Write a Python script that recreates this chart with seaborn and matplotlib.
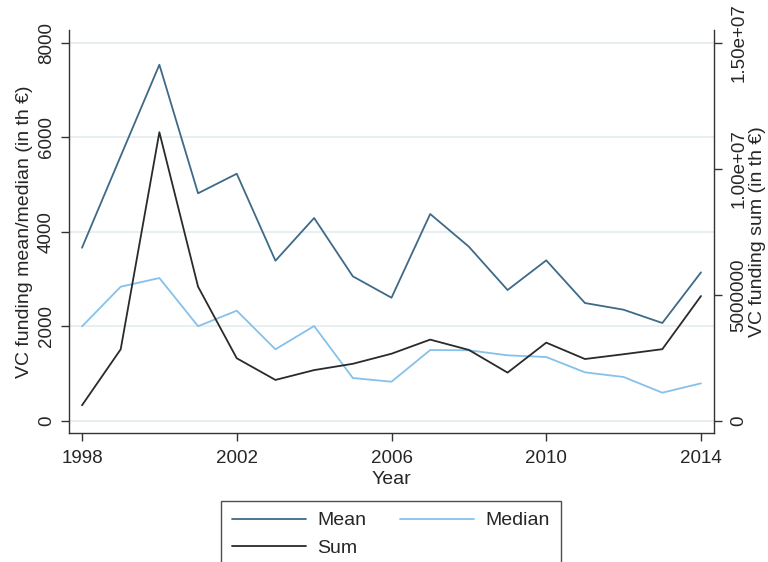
import matplotlib
matplotlib.use("Agg")
import matplotlib.pyplot as plt
import seaborn as sns
import pandas as pd
from matplotlib.ticker import FixedLocator, FixedFormatter

years = list(range(1998, 2015))
mean_vals = [3660, 5600, 7534, 4813, 5227, 3386, 4290, 3056, 2603, 4375,
             3683, 2766, 3394, 2491, 2349, 2068, 3140]
median_vals = [1995, 2836, 3020, 2000, 2328, 1511, 2004, 904, 825, 1496,
               1490, 1384, 1348, 1024, 925, 593, 791]
sum_vals = [623000, 2845000, 11460000, 5330000, 2490000, 1630000, 2020000,
            2270000, 2670000, 3230000, 2820000, 1920000, 3110000, 2460000,
            2650000, 2850000, 4960000]

left_ticks = [0, 2000, 4000, 6000, 8000]
right_ticks = [0, 5000000, 10000000, 15000000]
right_tick_labels = ["0", "5000000", "1.00e+07", "1.50e+07"]
x_ticks = [1998, 2002, 2006, 2010, 2014]

c_mean = "#3e6a88"
c_median = "#86c1ea"
c_sum = "#2a2a2a"

sns.set_style("white")
plt.rcParams["font.family"] = ["Liberation Sans", "DejaVu Sans"]

df = pd.DataFrame({"Year": years, "Mean": mean_vals, "Median": median_vals, "Sum": sum_vals})

fig = plt.figure(figsize=(7.68, 5.62), dpi=100)
ax = fig.add_axes([69/768, 1-433/562, (714-69)/768, (433-30)/562])
ax2 = ax.twinx()

lw = 1.3
sns.lineplot(data=df, x="Year", y="Mean", ax=ax, color=c_mean, linewidth=lw, label="Mean", legend=False)
sns.lineplot(data=df, x="Year", y="Median", ax=ax, color=c_median, linewidth=lw, label="Median", legend=False)
sns.lineplot(data=df, x="Year", y="Sum", ax=ax2, color=c_sum, linewidth=lw, label="Sum", legend=False)

ax.set_xlim(1997.664, 2014.336)
ax.set_ylim(-260, 8269)
ax2.set_ylim(-476000, 15516000)

ax.yaxis.set_major_locator(FixedLocator(left_ticks))
ax.set_yticklabels([str(t) for t in left_ticks])
ax.xaxis.set_major_locator(FixedLocator(x_ticks))
ax.set_xticklabels([str(t) for t in x_ticks])
ax2.yaxis.set_major_locator(FixedLocator(right_ticks))
ax2.yaxis.set_major_formatter(FixedFormatter(right_tick_labels))

ax.grid(axis="y", color="#e8eff2", linewidth=1.4)
ax.grid(axis="x", visible=False)
ax2.grid(False)
ax.set_axisbelow(True)

spine_color = "#333333"
for a in (ax, ax2):
    a.spines["top"].set_visible(False)
    for s in ("left", "bottom", "right"):
        a.spines[s].set_color(spine_color)
        a.spines[s].set_linewidth(1.0)
ax.spines["right"].set_visible(False)
ax2.spines["left"].set_visible(False)
ax2.spines["bottom"].set_visible(False)

fs = 13.5
ax.tick_params(axis="both", direction="out", length=6, width=1.0, color=spine_color,
               labelsize=fs, left=True, bottom=True)
ax.tick_params(axis="y", labelrotation=90, pad=4)
ax.tick_params(axis="x", pad=6)
for lab in ax.get_yticklabels():
    lab.set_va("center")
    lab.set_ha("right")
ax2.tick_params(axis="y", direction="out", length=6, width=1.0, color=spine_color,
                labelsize=fs, right=True, labelrotation=90, pad=6)
for lab in ax2.get_yticklabels():
    lab.set_va("center")
    lab.set_ha("left")

ax.set_xlabel("Year", fontsize=14, labelpad=3)
ax.set_ylabel("VC funding mean/median (in th €)", fontsize=14, labelpad=4)
ax2.set_ylabel("VC funding sum (in th €)", fontsize=14, labelpad=1)

h1, l1 = ax.get_legend_handles_labels()
h2, l2 = ax2.get_legend_handles_labels()
handles = [h1[0], h2[0], h1[1]]
labels = [l1[0], l2[0], l1[1]]
leg = fig.legend(handles, labels, ncol=2, loc="upper left",
                 bbox_to_anchor=(221/768, 1-501/562), fontsize=14,
                 frameon=True, fancybox=False, edgecolor="#222222",
                 handlelength=3.8, handletextpad=0.6, columnspacing=1.75,
                 labelspacing=0.5, borderpad=0.55, borderaxespad=0)
leg.get_frame().set_linewidth(1.0)

fig.savefig("out.png", dpi=100)
